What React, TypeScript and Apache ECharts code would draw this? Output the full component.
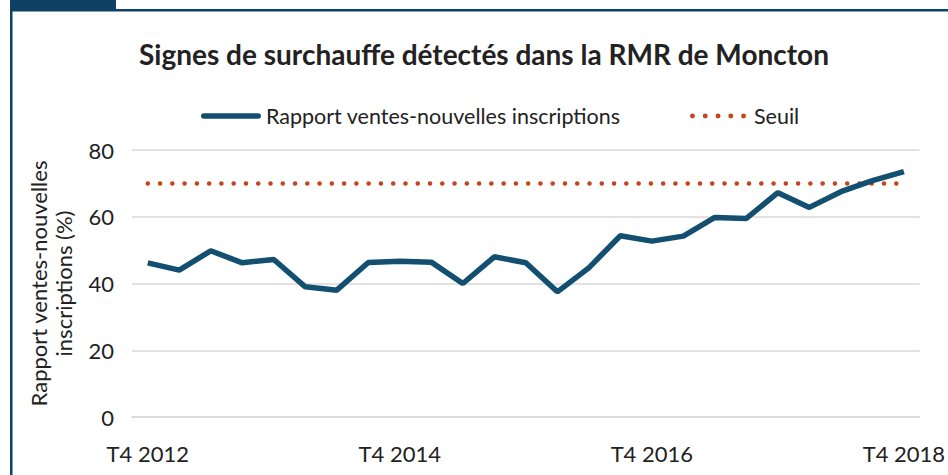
import React, { useEffect, useRef } from "react";
import * as echarts from "echarts";

const categories = [
  "T4 2012", "T1 2013", "T2 2013", "T3 2013", "T4 2013",
  "T1 2014", "T2 2014", "T3 2014", "T4 2014",
  "T1 2015", "T2 2015", "T3 2015", "T4 2015",
  "T1 2016", "T2 2016", "T3 2016", "T4 2016",
  "T1 2017", "T2 2017", "T3 2017", "T4 2017",
  "T1 2018", "T2 2018", "T3 2018", "T4 2018",
];

const ratioValues = [
  46.2, 44.0, 49.8, 46.2, 47.2, 39.0, 38.0, 46.3, 46.7, 46.4, 40.0, 48.0,
  46.2, 37.5, 44.7, 54.3, 52.7, 54.2, 59.8, 59.5, 67.2, 62.8, 67.5, 70.8, 73.5,
];

const thresholdValues = [
  70, 70, 70, 70, 70, 70, 70, 70, 70, 70, 70, 70, 70,
  70, 70, 70, 70, 70, 70, 70, 70, 70, 70, 70, 70,
];

const yTicks = [0, 20, 40, 60, 80];

const TITLE = "Signes de surchauffe détectés dans la RMR de Moncton";
const SERIES_RATIO = "Rapport ventes-nouvelles inscriptions";
const SERIES_SEUIL = "Seuil";
const Y_NAME = "Rapport ventes-nouvelles\ninscriptions (%)";

const FONT = "Lato";
const NAVY = "#0f4166";
const BLUE = "#124f70";
const ORANGE = "#c1461f";
const TEXT = "#222222";

const LINE_ICON =
  "path://M2.75,0h54.5a2.75,2.75 0 0,1 0,5.5h-54.5a2.75,2.75 0 0,1 0,-5.5z";
const DOT_ICON =
  "path://" +
  [2.5, 15.5, 28.5, 41.5, 54.5]
    .map((c) => `M${c - 2.5},2.5a2.5,2.5 0 1,0 5,0a2.5,2.5 0 1,0 -5,0z`)
    .join("");

export default function App() {
  const ref = useRef<HTMLDivElement>(null);

  useEffect(() => {
    if (!ref.current) return;
    const chart = echarts.init(ref.current, undefined, { renderer: "svg" });
    const legendBase = {
      top: 100,
      itemWidth: 60,
      itemHeight: 14,
      symbolKeepAspect: true,
    };
    chart.setOption({
      animation: false,
      backgroundColor: "#ffffff",
      textStyle: { fontFamily: FONT, color: TEXT },
      title: {
        text: TITLE,
        left: 479,
        top: 35,
        textAlign: "center",
        textStyle: {
          fontFamily: FONT,
          fontWeight: "bold",
          fontSize: 28,
          color: TEXT,
        },
      },
      legend: [
        {
          ...legendBase,
          left: 196,
          textStyle: {
            fontFamily: FONT,
            fontSize: 21.5,
            color: TEXT,
            padding: [0, 0, 0, 0],
          },
          data: [{ name: SERIES_RATIO, icon: LINE_ICON }],
        },
        {
          ...legendBase,
          left: 685,
          itemWidth: 56,
          textStyle: {
            fontFamily: FONT,
            fontSize: 21.5,
            color: TEXT,
            padding: [0, 0, 0, 3],
          },
          data: [{ name: SERIES_SEUIL, icon: DOT_ICON }],
        },
      ],
      grid: { left: 132, right: 23, top: 150, bottom: 58 },
      xAxis: {
        type: "category",
        data: categories,
        boundaryGap: true,
        axisLine: { lineStyle: { color: "#d9d9d9", width: 1.5 } },
        axisTick: {
          interval: 1,
          inside: true,
          length: 5,
          lineStyle: { color: "#d9d9d9" },
        },
        axisLabel: {
          interval: 7,
          fontFamily: FONT,
          fontSize: 22,
          color: TEXT,
          margin: 25,
        },
      },
      yAxis: {
        type: "value",
        min: yTicks[0],
        max: yTicks[yTicks.length - 1],
        interval: 20,
        name: Y_NAME,
        nameLocation: "middle",
        nameGap: 56,
        nameTextStyle: {
          fontFamily: FONT,
          fontSize: 22,
          color: TEXT,
          lineHeight: 25,
        },
        axisLine: { show: false },
        axisTick: { show: false },
        axisLabel: {
          fontFamily: FONT,
          fontSize: 22,
          color: TEXT,
          margin: 18,
        },
        splitLine: { lineStyle: { color: "#d9d9d9", width: 1.5 } },
      },
      series: [
        {
          name: SERIES_RATIO,
          type: "line",
          data: ratioValues,
          symbol: "none",
          lineStyle: { color: BLUE, width: 5.5 },
          itemStyle: { color: BLUE },
          z: 3,
        },
        {
          name: SERIES_SEUIL,
          type: "line",
          data: thresholdValues,
          symbol: "none",
          lineStyle: {
            color: ORANGE,
            width: 4.5,
            type: [0.1, 12.17],
            cap: "round",
          },
          itemStyle: { color: ORANGE },
          z: 2,
        },
      ],
      graphic: [
        {
          type: "rect",
          shape: { x: 10, y: 0, width: 106, height: 10 },
          style: { fill: NAVY },
        },
        {
          type: "rect",
          shape: { x: 10, y: 9, width: 950, height: 2.5 },
          style: { fill: NAVY },
        },
        {
          type: "rect",
          shape: { x: 10, y: 9, width: 2.5, height: 480 },
          style: { fill: NAVY },
        },
      ],
    });
    return () => chart.dispose();
  }, []);

  return (
    <div
      ref={ref}
      style={{ position: "fixed", left: 0, top: 0, width: 948, height: 475 }}
    />
  );
}
